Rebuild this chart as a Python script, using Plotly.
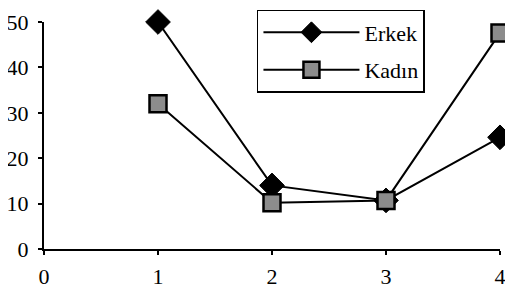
import plotly.graph_objects as go

x_vals = [1, 2, 3, 4]
erkek = [50, 14, 10.7, 24.6]
kadin = [32, 10.2, 10.7, 47.6]
x_ticks = [0, 1, 2, 3, 4]
y_ticks = [0, 10, 20, 30, 40, 50]

fig = go.Figure()
fig.add_trace(go.Scatter(
    x=x_vals, y=erkek, name="Erkek", mode="lines+markers",
    legendgroup="a",
    line=dict(color="black", width=2),
    marker=dict(symbol="diamond", size=19, color="black",
                line=dict(color="black", width=1)),
    cliponaxis=False,
))
fig.add_trace(go.Scatter(
    x=x_vals, y=kadin, name="Kadın", mode="lines+markers",
    legendgroup="b",
    line=dict(color="black", width=2),
    marker=dict(symbol="square", size=17, color="#8c8c8c",
                line=dict(color="black", width=2.5)),
    cliponaxis=False,
))

font = dict(family="Liberation Serif", size=22, color="black")
# page body has an 8px margin, so the figure is shrunk and shifted by 8px
fig.update_layout(
    width=505, height=282,
    margin=dict(l=36, r=13, t=14, b=41, autoexpand=False),
    paper_bgcolor="white", plot_bgcolor="white",
    font=font,
    showlegend=True,
    legend=dict(x=0.467, y=1.053, xanchor="left", yanchor="top",
                bordercolor="black", borderwidth=1.5, bgcolor="white",
                font=font, itemwidth=96, tracegroupgap=6),
    xaxis=dict(range=[0, 4], tickvals=x_ticks, showgrid=False, zeroline=False,
               showline=True, linecolor="black", linewidth=2,
               ticks="outside", ticklen=4, tickwidth=2, tickcolor="black",
               ticklabelstandoff=3),
    yaxis=dict(range=[0, 50], tickvals=y_ticks, showgrid=False, zeroline=False,
               showline=True, linecolor="black", linewidth=2,
               ticks="outside", ticklen=4, tickwidth=2, tickcolor="black",
               ticklabelstandoff=5),
)

fig.write_html("out.html")
